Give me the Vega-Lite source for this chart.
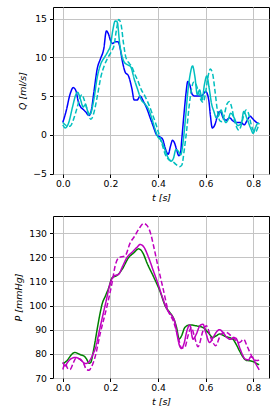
{
  "$schema": "https://vega.github.io/schema/vega-lite/v6.json",
  "padding": {"left": 13, "top": 6, "right": 5, "bottom": 5},
  "background": "white",
  "spacing": 42,
  "bounds": "flush",
  "config": {
    "font": "DejaVu Sans",
    "view": {"stroke": "black", "strokeWidth": 1},
    "axis": {
      "domain": false, "grid": true, "gridColor": "#c4c4c4", "gridWidth": 1,
      "tickColor": "black", "tickSize": 3.5, "labelColor": "black", "labelFontSize": 9.3,
      "labelFont": "DejaVu Sans", "titleFont": "DejaVu Sans", "titleFontSize": 9.5,
      "titleFontWeight": "normal", "titleFontStyle": "italic", "titleColor": "black"
    },
    "axisX": {"labelPadding": 2, "titlePadding": 4},
    "axisY": {"labelPadding": 3, "titlePadding": 5}
  },
  "datasets": {
    "top": [
      {"s":"b","t":0,"v":1.6},{"s":"b","t":0.015,"v":3.2},{"s":"b","t":0.03,"v":5.2},{"s":"b","t":0.044,"v":6.1},{"s":"b","t":0.055,"v":5.7},{"s":"b","t":0.065,"v":4.3},{"s":"b","t":0.075,"v":3.6},{"s":"b","t":0.085,"v":3.3},{"s":"b","t":0.095,"v":3.0},{"s":"b","t":0.11,"v":2.5},{"s":"b","t":0.12,"v":3.2},{"s":"b","t":0.13,"v":5.4},{"s":"b","t":0.145,"v":8.6},{"s":"b","t":0.158,"v":9.8},{"s":"b","t":0.172,"v":11.1},{"s":"b","t":0.183,"v":13.4},{"s":"b","t":0.192,"v":13.0},{"s":"b","t":0.2,"v":12.2},{"s":"b","t":0.21,"v":11.8},{"s":"b","t":0.22,"v":12.0},{"s":"b","t":0.232,"v":12.0},{"s":"b","t":0.24,"v":11.3},{"s":"b","t":0.249,"v":9.7},{"s":"b","t":0.262,"v":8.1},{"s":"b","t":0.276,"v":7.6},{"s":"b","t":0.29,"v":6.0},{"s":"b","t":0.3,"v":4.5},{"s":"b","t":0.312,"v":4.5},{"s":"b","t":0.325,"v":5.0},{"s":"b","t":0.339,"v":4.3},{"s":"b","t":0.353,"v":3.4},{"s":"b","t":0.367,"v":2.2},{"s":"b","t":0.38,"v":1.1},{"s":"b","t":0.394,"v":0.0},{"s":"b","t":0.41,"v":-0.3},{"s":"b","t":0.42,"v":-0.6},{"s":"b","t":0.43,"v":-1.7},{"s":"b","t":0.443,"v":-2.5},{"s":"b","t":0.452,"v":-1.5},{"s":"b","t":0.461,"v":-0.7},{"s":"b","t":0.47,"v":-1.1},{"s":"b","t":0.478,"v":-1.9},{"s":"b","t":0.4875,"v":-2.7},{"s":"b","t":0.495,"v":-2.2},{"s":"b","t":0.5,"v":-0.5},{"s":"b","t":0.51,"v":3.0},{"s":"b","t":0.518,"v":5.5},{"s":"b","t":0.525,"v":6.9},{"s":"b","t":0.533,"v":6.5},{"s":"b","t":0.544,"v":5.2},{"s":"b","t":0.555,"v":5.0},{"s":"b","t":0.568,"v":5.0},{"s":"b","t":0.58,"v":5.0},{"s":"b","t":0.589,"v":5.2},{"s":"b","t":0.6,"v":5.6},{"s":"b","t":0.607,"v":5.3},{"s":"b","t":0.614,"v":4.3},{"s":"b","t":0.62,"v":2.5},{"s":"b","t":0.628,"v":0.9},{"s":"b","t":0.64,"v":1.4},{"s":"b","t":0.65,"v":2.5},{"s":"b","t":0.658,"v":3.0},{"s":"b","t":0.665,"v":2.9},{"s":"b","t":0.672,"v":2.3},{"s":"b","t":0.686,"v":1.9},{"s":"b","t":0.7,"v":2.2},{"s":"b","t":0.715,"v":1.8},{"s":"b","t":0.728,"v":1.6},{"s":"b","t":0.749,"v":1.6},{"s":"b","t":0.762,"v":1.3},{"s":"b","t":0.775,"v":1.9},{"s":"b","t":0.787,"v":2.4},{"s":"b","t":0.797,"v":2.1},{"s":"b","t":0.81,"v":1.7},{"s":"b","t":0.822,"v":1.5},
      {"s":"c","t":0,"v":1.3},{"s":"c","t":0.01,"v":0.9},{"s":"c","t":0.025,"v":1.6},{"s":"c","t":0.04,"v":3.5},{"s":"c","t":0.055,"v":5.2},{"s":"c","t":0.062,"v":5.5},{"s":"c","t":0.075,"v":4.5},{"s":"c","t":0.085,"v":3.6},{"s":"c","t":0.095,"v":3.9},{"s":"c","t":0.105,"v":3.0},{"s":"c","t":0.115,"v":2.7},{"s":"c","t":0.13,"v":4.5},{"s":"c","t":0.145,"v":7.5},{"s":"c","t":0.16,"v":9.2},{"s":"c","t":0.175,"v":10.0},{"s":"c","t":0.19,"v":10.8},{"s":"c","t":0.2,"v":11.5},{"s":"c","t":0.21,"v":13.5},{"s":"c","t":0.22,"v":14.7},{"s":"c","t":0.228,"v":14.6},{"s":"c","t":0.24,"v":11.5},{"s":"c","t":0.25,"v":10.0},{"s":"c","t":0.26,"v":9.3},{"s":"c","t":0.275,"v":9.0},{"s":"c","t":0.285,"v":8.8},{"s":"c","t":0.3,"v":7.2},{"s":"c","t":0.315,"v":5.8},{"s":"c","t":0.33,"v":4.5},{"s":"c","t":0.345,"v":4.0},{"s":"c","t":0.36,"v":3.3},{"s":"c","t":0.375,"v":2.0},{"s":"c","t":0.39,"v":0.5},{"s":"c","t":0.4,"v":-0.3},{"s":"c","t":0.41,"v":-0.6},{"s":"c","t":0.42,"v":-1.2},{"s":"c","t":0.43,"v":-2.0},{"s":"c","t":0.44,"v":-2.8},{"s":"c","t":0.455,"v":-3.4},{"s":"c","t":0.465,"v":-3.0},{"s":"c","t":0.475,"v":-1.9},{"s":"c","t":0.485,"v":-2.1},{"s":"c","t":0.495,"v":-2.6},{"s":"c","t":0.505,"v":-1.0},{"s":"c","t":0.515,"v":2.0},{"s":"c","t":0.525,"v":5.5},{"s":"c","t":0.535,"v":7.8},{"s":"c","t":0.545,"v":8.9},{"s":"c","t":0.555,"v":7.5},{"s":"c","t":0.565,"v":5.2},{"s":"c","t":0.575,"v":5.8},{"s":"c","t":0.585,"v":4.5},{"s":"c","t":0.595,"v":6.5},{"s":"c","t":0.605,"v":7.6},{"s":"c","t":0.615,"v":6.0},{"s":"c","t":0.625,"v":4.0},{"s":"c","t":0.635,"v":3.0},{"s":"c","t":0.645,"v":2.2},{"s":"c","t":0.655,"v":2.5},{"s":"c","t":0.665,"v":3.2},{"s":"c","t":0.675,"v":2.2},{"s":"c","t":0.685,"v":1.6},{"s":"c","t":0.695,"v":2.0},{"s":"c","t":0.705,"v":2.8},{"s":"c","t":0.72,"v":2.2},{"s":"c","t":0.735,"v":1.2},{"s":"c","t":0.75,"v":1.5},{"s":"c","t":0.76,"v":3.0},{"s":"c","t":0.775,"v":2.0},{"s":"c","t":0.79,"v":0.8},{"s":"c","t":0.8,"v":0.2},{"s":"c","t":0.81,"v":1.0},{"s":"c","t":0.82,"v":1.5},{"s":"c","t":0.825,"v":1.4},
      {"s":"cd","t":0,"v":1.6},{"s":"cd","t":0.015,"v":1.2},{"s":"cd","t":0.03,"v":1.1},{"s":"cd","t":0.045,"v":2.0},{"s":"cd","t":0.06,"v":3.5},{"s":"cd","t":0.072,"v":4.8},{"s":"cd","t":0.08,"v":5.2},{"s":"cd","t":0.09,"v":4.5},{"s":"cd","t":0.1,"v":3.5},{"s":"cd","t":0.11,"v":2.4},{"s":"cd","t":0.118,"v":2.0},{"s":"cd","t":0.13,"v":2.8},{"s":"cd","t":0.145,"v":5.0},{"s":"cd","t":0.16,"v":7.5},{"s":"cd","t":0.175,"v":9.0},{"s":"cd","t":0.19,"v":10.0},{"s":"cd","t":0.205,"v":10.8},{"s":"cd","t":0.215,"v":11.5},{"s":"cd","t":0.225,"v":13.5},{"s":"cd","t":0.235,"v":14.9},{"s":"cd","t":0.245,"v":14.2},{"s":"cd","t":0.255,"v":11.8},{"s":"cd","t":0.265,"v":10.0},{"s":"cd","t":0.28,"v":9.2},{"s":"cd","t":0.29,"v":8.8},{"s":"cd","t":0.3,"v":8.0},{"s":"cd","t":0.315,"v":7.0},{"s":"cd","t":0.33,"v":5.8},{"s":"cd","t":0.345,"v":5.0},{"s":"cd","t":0.36,"v":4.0},{"s":"cd","t":0.375,"v":2.8},{"s":"cd","t":0.39,"v":1.5},{"s":"cd","t":0.405,"v":0.0},{"s":"cd","t":0.42,"v":-1.5},{"s":"cd","t":0.43,"v":-2.5},{"s":"cd","t":0.445,"v":-3.2},{"s":"cd","t":0.46,"v":-3.4},{"s":"cd","t":0.475,"v":-3.8},{"s":"cd","t":0.49,"v":-4.1},{"s":"cd","t":0.5,"v":-3.9},{"s":"cd","t":0.51,"v":-2.0},{"s":"cd","t":0.52,"v":0.5},{"s":"cd","t":0.53,"v":3.5},{"s":"cd","t":0.54,"v":5.8},{"s":"cd","t":0.55,"v":6.8},{"s":"cd","t":0.56,"v":6.5},{"s":"cd","t":0.57,"v":5.5},{"s":"cd","t":0.58,"v":4.5},{"s":"cd","t":0.59,"v":4.2},{"s":"cd","t":0.6,"v":5.5},{"s":"cd","t":0.61,"v":7.5},{"s":"cd","t":0.62,"v":8.5},{"s":"cd","t":0.63,"v":7.8},{"s":"cd","t":0.64,"v":5.5},{"s":"cd","t":0.65,"v":3.0},{"s":"cd","t":0.66,"v":1.8},{"s":"cd","t":0.67,"v":1.7},{"s":"cd","t":0.68,"v":2.8},{"s":"cd","t":0.69,"v":4.0},{"s":"cd","t":0.7,"v":4.3},{"s":"cd","t":0.71,"v":3.5},{"s":"cd","t":0.72,"v":2.0},{"s":"cd","t":0.73,"v":1.0},{"s":"cd","t":0.74,"v":0.6},{"s":"cd","t":0.75,"v":1.3},{"s":"cd","t":0.76,"v":2.5},{"s":"cd","t":0.77,"v":3.2},{"s":"cd","t":0.78,"v":2.8},{"s":"cd","t":0.79,"v":1.5},{"s":"cd","t":0.8,"v":0.6},{"s":"cd","t":0.81,"v":0.4},{"s":"cd","t":0.82,"v":1.0},{"s":"cd","t":0.825,"v":1.5}
    ],
    "bottom": [
      {"s":"g","t":0,"v":75.8},{"s":"g","t":0.02,"v":77.5},{"s":"g","t":0.035,"v":79.5},{"s":"g","t":0.05,"v":80.6},{"s":"g","t":0.06,"v":80.3},{"s":"g","t":0.075,"v":79.6},{"s":"g","t":0.09,"v":79.0},{"s":"g","t":0.1,"v":77.8},{"s":"g","t":0.11,"v":76.1},{"s":"g","t":0.117,"v":76.4},{"s":"g","t":0.13,"v":82.0},{"s":"g","t":0.144,"v":90.0},{"s":"g","t":0.155,"v":96.0},{"s":"g","t":0.165,"v":100.6},{"s":"g","t":0.179,"v":104.0},{"s":"g","t":0.193,"v":107.4},{"s":"g","t":0.207,"v":111.5},{"s":"g","t":0.228,"v":112.5},{"s":"g","t":0.249,"v":115.0},{"s":"g","t":0.276,"v":119.8},{"s":"g","t":0.3,"v":122.0},{"s":"g","t":0.318,"v":123.5},{"s":"g","t":0.328,"v":123.0},{"s":"g","t":0.338,"v":121.5},{"s":"g","t":0.353,"v":117.8},{"s":"g","t":0.38,"v":112.2},{"s":"g","t":0.408,"v":106.0},{"s":"g","t":0.43,"v":99.9},{"s":"g","t":0.45,"v":97.1},{"s":"g","t":0.464,"v":95.0},{"s":"g","t":0.478,"v":90.9},{"s":"g","t":0.489,"v":86.1},{"s":"g","t":0.499,"v":87.5},{"s":"g","t":0.5125,"v":90.9},{"s":"g","t":0.533,"v":92.0},{"s":"g","t":0.561,"v":91.6},{"s":"g","t":0.589,"v":90.9},{"s":"g","t":0.61,"v":88.9},{"s":"g","t":0.63,"v":86.8},{"s":"g","t":0.645,"v":87.5},{"s":"g","t":0.658,"v":88.2},{"s":"g","t":0.686,"v":87.1},{"s":"g","t":0.714,"v":86.1},{"s":"g","t":0.728,"v":84.0},{"s":"g","t":0.742,"v":81.3},{"s":"g","t":0.755,"v":79.0},{"s":"g","t":0.769,"v":77.4},{"s":"g","t":0.797,"v":76.9},{"s":"g","t":0.818,"v":75.8},{"s":"g","t":0.825,"v":75.5},
      {"s":"m","t":0,"v":76.5},{"s":"m","t":0.01,"v":75.0},{"s":"m","t":0.02,"v":76.5},{"s":"m","t":0.035,"v":78.0},{"s":"m","t":0.05,"v":78.5},{"s":"m","t":0.065,"v":78.2},{"s":"m","t":0.08,"v":77.0},{"s":"m","t":0.095,"v":76.0},{"s":"m","t":0.105,"v":76.3},{"s":"m","t":0.115,"v":77.5},{"s":"m","t":0.125,"v":79.5},{"s":"m","t":0.1375,"v":82.6},{"s":"m","t":0.158,"v":91.6},{"s":"m","t":0.179,"v":100.6},{"s":"m","t":0.2,"v":109.5},{"s":"m","t":0.214,"v":112.2},{"s":"m","t":0.235,"v":113.0},{"s":"m","t":0.25,"v":116.0},{"s":"m","t":0.27,"v":120.0},{"s":"m","t":0.29,"v":122.0},{"s":"m","t":0.31,"v":124.0},{"s":"m","t":0.325,"v":125.3},{"s":"m","t":0.34,"v":124.3},{"s":"m","t":0.36,"v":120.0},{"s":"m","t":0.38,"v":114.5},{"s":"m","t":0.4,"v":109.0},{"s":"m","t":0.42,"v":103.0},{"s":"m","t":0.44,"v":98.0},{"s":"m","t":0.46,"v":95.5},{"s":"m","t":0.47,"v":93.5},{"s":"m","t":0.48,"v":88.0},{"s":"m","t":0.49,"v":83.5},{"s":"m","t":0.499,"v":82.2},{"s":"m","t":0.51,"v":84.5},{"s":"m","t":0.52,"v":89.0},{"s":"m","t":0.533,"v":92.0},{"s":"m","t":0.547,"v":86.1},{"s":"m","t":0.56,"v":88.0},{"s":"m","t":0.575,"v":91.5},{"s":"m","t":0.589,"v":92.3},{"s":"m","t":0.6,"v":89.0},{"s":"m","t":0.6167,"v":84.7},{"s":"m","t":0.63,"v":86.5},{"s":"m","t":0.645,"v":89.0},{"s":"m","t":0.658,"v":90.0},{"s":"m","t":0.672,"v":89.0},{"s":"m","t":0.689,"v":86.8},{"s":"m","t":0.705,"v":86.0},{"s":"m","t":0.718,"v":86.8},{"s":"m","t":0.728,"v":86.4},{"s":"m","t":0.745,"v":82.0},{"s":"m","t":0.767,"v":77.8},{"s":"m","t":0.78,"v":77.5},{"s":"m","t":0.79,"v":78.8},{"s":"m","t":0.797,"v":78.5},{"s":"m","t":0.81,"v":76.0},{"s":"m","t":0.825,"v":73.4},
      {"s":"md","t":0,"v":73.5},{"s":"md","t":0.01,"v":76.0},{"s":"md","t":0.02,"v":74.0},{"s":"md","t":0.03,"v":73.5},{"s":"md","t":0.045,"v":76.5},{"s":"md","t":0.055,"v":78.2},{"s":"md","t":0.07,"v":78.0},{"s":"md","t":0.085,"v":76.5},{"s":"md","t":0.1,"v":73.5},{"s":"md","t":0.11,"v":73.2},{"s":"md","t":0.12,"v":74.5},{"s":"md","t":0.135,"v":78.5},{"s":"md","t":0.158,"v":88.8},{"s":"md","t":0.186,"v":99.9},{"s":"md","t":0.207,"v":109.5},{"s":"md","t":0.22,"v":116.5},{"s":"md","t":0.235,"v":119.8},{"s":"md","t":0.262,"v":120.6},{"s":"md","t":0.283,"v":126.0},{"s":"md","t":0.3,"v":128.5},{"s":"md","t":0.318,"v":131.5},{"s":"md","t":0.34,"v":134.0},{"s":"md","t":0.355,"v":133.0},{"s":"md","t":0.37,"v":129.5},{"s":"md","t":0.38,"v":125.3},{"s":"md","t":0.401,"v":115.7},{"s":"md","t":0.422,"v":106.7},{"s":"md","t":0.443,"v":97.8},{"s":"md","t":0.464,"v":93.7},{"s":"md","t":0.485,"v":86.8},{"s":"md","t":0.499,"v":82.4},{"s":"md","t":0.5125,"v":82.7},{"s":"md","t":0.526,"v":87.5},{"s":"md","t":0.54,"v":90.9},{"s":"md","t":0.554,"v":86.8},{"s":"md","t":0.568,"v":82.9},{"s":"md","t":0.589,"v":89.5},{"s":"md","t":0.603,"v":91.6},{"s":"md","t":0.624,"v":86.1},{"s":"md","t":0.642,"v":83.4},{"s":"md","t":0.665,"v":88.2},{"s":"md","t":0.686,"v":88.9},{"s":"md","t":0.714,"v":86.8},{"s":"md","t":0.742,"v":84.7},{"s":"md","t":0.76,"v":86.0},{"s":"md","t":0.775,"v":83.0},{"s":"md","t":0.797,"v":78.5},{"s":"md","t":0.814,"v":77.2},{"s":"md","t":0.825,"v":77.4}
    ]
  },
  "vconcat": [
    {
      "width": 216, "height": 167,
      "data": {"name": "top"},
      "mark": {"type": "line", "strokeWidth": 1.5, "interpolate": "monotone"},
      "encoding": {
        "x": {"field": "t", "type": "quantitative", "title": "t [s]",
              "scale": {"domain": [-0.04125, 0.86625], "nice": false, "zero": false},
              "axis": {"values": [0, 0.2, 0.4, 0.6, 0.8], "format": ".1f"}},
        "y": {"field": "v", "type": "quantitative", "title": "Q [ml/s]",
              "scale": {"domain": [-5.05, 16.5], "nice": false, "zero": false},
              "axis": {"values": [-5, 0, 5, 10, 15]}},
        "color": {"field": "s", "type": "nominal", "legend": null,
                  "scale": {"domain": ["b", "c", "cd", "g", "m", "md"], "range": ["#0000ff", "#00bfbf", "#00bfbf", "#008000", "#bf00bf", "#bf00bf"]}},
        "strokeDash": {"field": "s", "type": "nominal", "legend": null,
                  "scale": {"domain": ["b", "c", "cd", "g", "m", "md"], "range": [[1, 0], [1, 0], [5, 2.5], [1, 0], [1, 0], [5, 2.5]]}}
      }
    },
    {
      "width": 216, "height": 162,
      "data": {"name": "bottom"},
      "mark": {"type": "line", "strokeWidth": 1.5, "interpolate": "monotone"},
      "encoding": {
        "x": {"field": "t", "type": "quantitative", "title": "t [s]",
              "scale": {"domain": [-0.04125, 0.86625], "nice": false, "zero": false},
              "axis": {"values": [0, 0.2, 0.4, 0.6, 0.8], "format": ".1f"}},
        "y": {"field": "v", "type": "quantitative", "title": "P [mmHg]",
              "scale": {"domain": [70, 137.1], "nice": false, "zero": false},
              "axis": {"values": [70, 80, 90, 100, 110, 120, 130]}},
        "color": {"field": "s", "type": "nominal", "legend": null,
                  "scale": {"domain": ["b", "c", "cd", "g", "m", "md"], "range": ["#0000ff", "#00bfbf", "#00bfbf", "#008000", "#bf00bf", "#bf00bf"]}},
        "strokeDash": {"field": "s", "type": "nominal", "legend": null,
                  "scale": {"domain": ["b", "c", "cd", "g", "m", "md"], "range": [[1, 0], [1, 0], [5, 2.5], [1, 0], [1, 0], [5, 2.5]]}}
      }
    }
  ]
}
